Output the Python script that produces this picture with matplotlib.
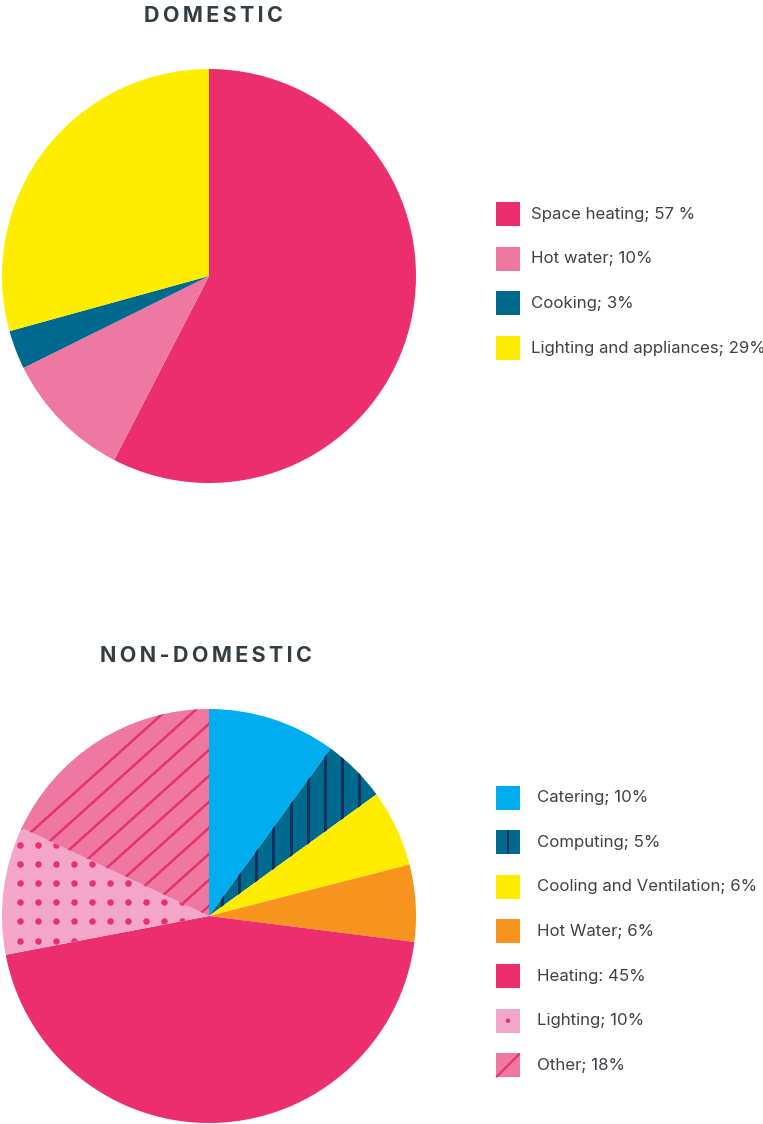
import matplotlib
matplotlib.use("Agg")
import matplotlib.pyplot as plt
import matplotlib.patches as mpat
import numpy as np

plt.rcParams['font.family'] = ['Inter', 'DejaVu Sans']

W, H = 763, 1124

# domestic energy use
domLabels = ["Space heating; 57 %", "Hot water; 10%", "Cooking; 3%", "Lighting and appliances; 29%"]
domValues = [57, 10, 3, 29]
domColors = ["#ec2e6e", "#ef78a3", "#006a8e", "#ffed00"]

# non-domestic energy use
ndLabels = ["Catering; 10%", "Computing; 5%", "Cooling and Ventilation; 6%", "Hot Water; 6%",
            "Heating: 45%", "Lighting; 10%", "Other; 18%"]
ndValues = [10, 5, 6, 6, 45, 10, 18]
ndColors = ["#00aeef", "#006a8e", "#ffed00", "#f7941d", "#ec2e6e", "#f4a6c8", "#ef78a3"]
ndPatterns = [None, "vlines", None, None, None, "dots", "diag"]

TEXT = "#3c4247"
TITLE = "#333d43"
NAVY = "#1e2a5a"
PINK = "#e8306c"
R_PX = 207.0


def pxAxes(fig, cx, cy, r):
    # axes box around a pie centred at pixel (cx, cy) measured from the top-left
    return fig.add_axes([(cx - r) / W, (H - cy - r) / H, 2 * r / W, 2 * r / H])


def spaced(s):
    return "\u2009".join(s)


def drawPattern(ax, wedge, kind):
    u = 1 / R_PX
    if kind == "vlines":
        for x in np.arange(12.7, 200, 17.2) * u:
            ln, = ax.plot([x, x], [-1.1, 1.1], color=NAVY, lw=2.0, solid_capstyle="butt")
            ln.set_clip_path(wedge)
    elif kind == "dots":
        xs = np.arange(-189, 0, 18.0) * u
        ys = np.arange(71 - 19.1 * 6, 71 + 19.1 * 2, 19.1) * u
        gx, gy = np.meshgrid(xs, ys)
        sc = ax.scatter(gx.ravel(), gy.ravel(), s=22, color=PINK, linewidths=0, zorder=3)
        sc.set_clip_path(wedge)
    elif kind == "diag":
        slope = 0.9
        for c in np.arange(0.928 - 26 * u * 16, 1.2, 26 * u):
            ln, = ax.plot([-1.2, 1.2], [c - 1.2 * slope, c + 1.2 * slope], color=PINK, lw=1.8)
            ln.set_clip_path(wedge)


def legendKey(fig, x, y, color, kind=None):
    # 24px square key, top-left at pixel (x, y)
    s = 24
    fig.add_artist(mpat.Rectangle((x / W, (H - y - s) / H), s / W, s / H, transform=fig.transFigure,
                                  facecolor=color, edgecolor="none"))
    if kind == "vlines":
        fig.add_artist(mpat.Rectangle(((x + 10.5) / W, (H - y - s) / H), 3 / W, s / H,
                                      transform=fig.transFigure, facecolor=NAVY, edgecolor="none"))
    elif kind == "dots":
        fig.add_artist(mpat.Ellipse(((x + 12) / W, (H - y - 12) / H), 4.5 / W, 4.5 / H,
                                    transform=fig.transFigure, facecolor=PINK, edgecolor="none"))
    elif kind == "diag":
        fig.add_artist(plt.Line2D([(x + 1) / W, (x + s - 1) / W], [(H - y - s + 1) / H, (H - y - 1) / H],
                                  transform=fig.transFigure, color=PINK, lw=1.6))


fig = plt.figure(figsize=(W / 100, H / 100), dpi=100)
fig.patch.set_facecolor("white")

# domestic pie
ax1 = pxAxes(fig, 209, 276, R_PX)
ax1.pie(domValues, colors=domColors, startangle=90, counterclock=False,
        wedgeprops=dict(linewidth=0, antialiased=True))
ax1.set_xlim(-1, 1)
ax1.set_ylim(-1, 1)
ax1.set_aspect("equal")
ax1.axis("off")

fig.text(213 / W, 1 - 15.5 / H, spaced("DOMESTIC"), ha="center", va="center",
         fontsize=15.5, fontweight="bold", color=TITLE)

for i, (lab, col) in enumerate(zip(domLabels, domColors)):
    yc = 214 + i * 44.7
    legendKey(fig, 496, yc - 12, col)
    fig.text(531 / W, 1 - yc / H, lab, ha="left", va="center", fontsize=12.1, color=TEXT)

# non-domestic pie
ax2 = pxAxes(fig, 209, 916, R_PX)
wedges, _ = ax2.pie(ndValues, colors=ndColors, startangle=90, counterclock=False,
                    wedgeprops=dict(linewidth=0, antialiased=True))
for w, kind in zip(wedges, ndPatterns):
    if kind:
        drawPattern(ax2, w, kind)
ax2.set_xlim(-1, 1)
ax2.set_ylim(-1, 1)
ax2.set_aspect("equal")
ax2.axis("off")

fig.text(206 / W, 1 - 656 / H, spaced("NON-DOMESTIC"), ha="center", va="center",
         fontsize=15.5, fontweight="bold", color=TITLE)

for i, (lab, col, kind) in enumerate(zip(ndLabels, ndColors, ndPatterns)):
    yc = 797.5 + i * 44.65
    legendKey(fig, 496, yc - 12, col, kind)
    fig.text(537 / W, 1 - yc / H, lab, ha="left", va="center", fontsize=12.1, color=TEXT)

fig.savefig("out.png", dpi=100, facecolor="white")
